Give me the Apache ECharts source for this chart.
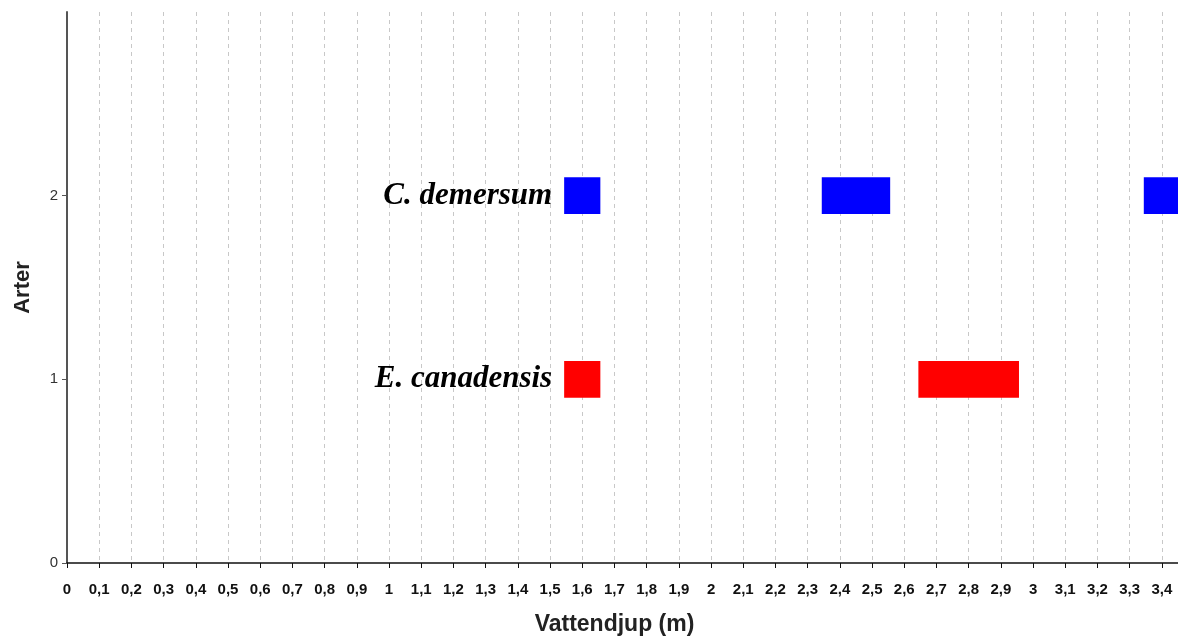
<!DOCTYPE html>
<html>
<head>
<meta charset="utf-8">
<script src="https://cdn.jsdelivr.net/npm/echarts@6/dist/echarts.min.js"></script>
<style>
  html, body { margin: 0; padding: 0; background: #fff; }
  #main { width: 1178px; height: 641px; }
</style>
</head>
<body>
<div id="main"></div>
<script>
// depth ticks along the x axis (m)
const xTicks = [0, 0.1, 0.2, 0.3, 0.4, 0.5, 0.6, 0.7, 0.8, 0.9, 1, 1.1, 1.2, 1.3, 1.4, 1.5, 1.6, 1.7,
  1.8, 1.9, 2, 2.1, 2.2, 2.3, 2.4, 2.5, 2.6, 2.7, 2.8, 2.9, 3, 3.1, 3.2, 3.3, 3.4];
const yTicks = [0, 1, 2];

// species rows and the depth ranges where each one was found
const speciesNames = ["E. canadensis", "C. demersum"];
const speciesRows = [1, 2];
const speciesColors = ["#ff0000", "#0000ff"];
const canadensisRanges = [[1.55, 1.65], [2.65, 2.95]];
const demersumRanges = [[1.55, 1.65], [2.35, 2.55], [3.35, 3.45]];
const allRanges = [canadensisRanges, demersumRanges];

function makeSeries(idx) {
  const data = allRanges[idx].map(function (r) { return [r[0], r[1], speciesRows[idx]]; });
  return {
    type: "custom",
    name: speciesNames[idx],
    data: data,
    clip: true,
    renderItem: function (params, api) {
      const start = api.coord([api.value(0), api.value(2)]);
      const end = api.coord([api.value(1), api.value(2)]);
      const h = api.size([0, 0.2])[1];
      const children = [{
        type: "rect",
        shape: { x: start[0] - 2, y: start[1] - h / 2, width: end[0] - start[0] + 4, height: h },
        style: { fill: speciesColors[idx] }
      }];
      if (params.dataIndex === 0) {
        children.push({
          type: "text",
          style: {
            text: speciesNames[idx],
            x: start[0] - 14,
            y: start[1],
            align: "right",
            verticalAlign: "middle",
            font: 'italic bold 31px "Liberation Serif", serif',
            fill: "#000"
          }
        });
      }
      return { type: "group", children: children };
    }
  };
}

var chartDom = document.getElementById("main");
var myChart = echarts.init(chartDom);
var options = {
  animation: false,
  backgroundColor: "#fff",
  grid: { left: 67, right: 0, top: 12, bottom: 74, containLabel: false },
  xAxis: {
    type: "value",
    min: 0,
    max: 3.45,
    interval: 0.1,
    name: "Vattendjup (m)",
    nameLocation: "middle",
    nameGap: 50,
    nameTextStyle: {
      fontFamily: '"Liberation Sans", Arial, sans-serif',
      fontWeight: "bold",
      fontSize: 23,
      color: "#222",
      padding: [0, 16, 0, 0]
    },
    axisLine: { lineStyle: { color: "#111", width: 1.5 } },
    axisTick: { show: true, length: 5, customValues: xTicks, lineStyle: { color: "#111" } },
    axisLabel: {
      customValues: xTicks,
      margin: 19,
      fontFamily: '"Liberation Sans", Arial, sans-serif',
      fontWeight: "bold",
      fontSize: 15,
      color: "#111",
      formatter: function (v) { return String(Math.round(v * 10) / 10).replace(".", ","); }
    },
    splitLine: { show: true, lineStyle: { type: [4, 4], color: "#c8c8c8", width: 1 } }
  },
  yAxis: {
    type: "value",
    min: 0,
    max: 3,
    interval: 1,
    name: "Arter",
    nameLocation: "middle",
    nameGap: 33,
    nameRotate: 90,
    nameTextStyle: {
      fontFamily: '"Liberation Sans", Arial, sans-serif',
      fontWeight: "bold",
      fontSize: 22,
      color: "#222"
    },
    axisLine: { show: true, lineStyle: { color: "#555", width: 2 } },
    axisTick: { show: true, length: 5, customValues: yTicks, lineStyle: { color: "#555" } },
    axisLabel: {
      customValues: yTicks,
      margin: 9,
      fontFamily: '"Liberation Sans", Arial, sans-serif',
      fontSize: 15,
      color: "#333"
    },
    splitLine: { show: false }
  },
  series: [makeSeries(0), makeSeries(1)]
};
options && myChart.setOption(options);
</script>
</body>
</html>
